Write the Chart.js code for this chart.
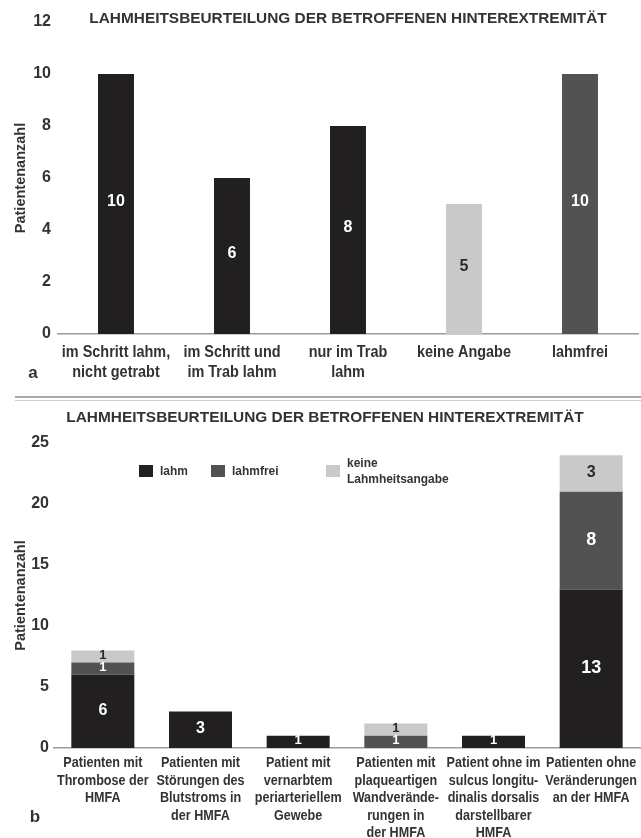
<!DOCTYPE html>
<html><head><meta charset="utf-8">
<script src="https://cdn.jsdelivr.net/npm/chart.js@4/dist/chart.umd.min.js"></script>
<style>
html,body{margin:0;padding:0;background:#fff;}
body{width:641px;height:838px;position:relative;overflow:hidden;}
#a{position:absolute;left:0;top:0;}
#b{position:absolute;left:0;top:405px;}
.sep{position:absolute;left:15px;right:0;top:396px;height:2px;background:#a9a9a9;}
.sep2{position:absolute;left:15px;right:0;top:400px;height:1px;background:#d0d0d0;}
</style></head><body>
<canvas id="a" width="641" height="395"></canvas>
<div class="sep"></div><div class="sep2"></div>
<canvas id="b" width="641" height="433"></canvas>
<script>
// ---- data ----
const chartTitle = 'LAHMHEITSBEURTEILUNG DER BETROFFENEN HINTEREXTREMITÄT';

// (a) lameness of the affected hind limb
const gaitCategories = [['im Schritt lahm,', 'nicht getrabt'], ['im Schritt und', 'im Trab lahm'], ['nur im Trab', 'lahm'], 'keine Angabe', 'lahmfrei'];
const gaitCounts = [10, 6, 8, 5, 10];
const gaitTicks = [0, 2, 4, 6, 8, 10, 12];

// (b) lameness by finding in the HMFA
const findingCategories = [
  ['Patienten mit', 'Thrombose der', 'HMFA'],
  ['Patienten mit', 'Störungen des', 'Blutstroms in', 'der HMFA'],
  ['Patient mit', 'vernarbtem', 'periarteriellem', 'Gewebe'],
  ['Patienten mit', 'plaqueartigen', 'Wandverände-', 'rungen in', 'der HMFA'],
  ['Patient ohne im', 'sulcus longitu-', 'dinalis dorsalis', 'darstellbarer', 'HMFA'],
  ['Patienten ohne', 'Veränderungen', 'an der HMFA']
];
const lahm = [6, 3, 1, 0, 1, 13];
const lahmfrei = [1, 0, 0, 1, 0, 8];
const keineAngabe = [1, 0, 0, 1, 0, 3];
const findingTicks = [0, 5, 10, 15, 20, 25];

// ---- styling ----
const BLACK = '#221f20', DARK = '#525252', LIGHT = '#c9c9c9';
const SANS = "'Liberation Sans',Arial,sans-serif";
const TEXT = '#333';

// numbers written inside the bar segments
const valueLabels = {
  id: 'valueLabels',
  afterDatasetsDraw(chart, args, opts) {
    const ctx = chart.ctx;
    chart.data.datasets.forEach((ds, i) => {
      const meta = chart.getDatasetMeta(i);
      meta.data.forEach((el, j) => {
        const v = ds.data[j];
        if (!v) return;
        const bg = Array.isArray(ds.backgroundColor) ? ds.backgroundColor[j] : ds.backgroundColor;
        ctx.save();
        ctx.font = 'bold ' + opts.size(v) + 'px ' + SANS;
        ctx.fillStyle = bg === LIGHT ? '#2a2a2a' : '#ffffff';
        ctx.textAlign = 'center';
        ctx.textBaseline = 'middle';
        ctx.fillText(String(v), el.x, (el.y + el.base) / 2 + (opts.dy || 0));
        ctx.restore();
      });
    });
  }
};

// condensed multi-line category labels under the x axis
const narrowTicks = {
  id: 'narrowTicks',
  afterDraw(chart, args, opts) {
    const sc = chart.scales.x;
    const ctx = chart.ctx;
    ctx.save();
    ctx.font = 'bold ' + opts.size + 'px ' + SANS;
    ctx.fillStyle = TEXT;
    ctx.textAlign = 'center';
    ctx.textBaseline = 'middle';
    chart.data.labels.forEach((lab, i) => {
      const x = sc.getPixelForTick(i);
      const lines = Array.isArray(lab) ? lab : [lab];
      lines.forEach((t, k) => {
        ctx.save();
        ctx.translate(x, sc.top + opts.first + k * opts.lh);
        ctx.scale(opts.sx, 1);
        ctx.fillText(t, 0, 0);
        ctx.restore();
      });
    });
    ctx.restore();
  }
};

// heading and panel letter
const panelText = {
  id: 'panelText',
  afterDraw(chart, args, opts) {
    const ctx = chart.ctx;
    ctx.save();
    ctx.fillStyle = TEXT;
    ctx.textBaseline = 'middle';
    ctx.textAlign = 'center';
    ctx.font = 'bold ' + opts.titleSize + 'px ' + SANS;
    ctx.fillText(opts.title, opts.titleX, opts.titleY);
    ctx.font = 'bold 17px ' + SANS;
    ctx.fillText(opts.letter, opts.letterX, opts.letterY);
    ctx.restore();
  }
};

// legend placed inside the plot area
const innerLegend = {
  id: 'innerLegend',
  afterDraw(chart, args, opts) {
    const ctx = chart.ctx;
    ctx.save();
    ctx.font = 'bold 13px ' + SANS;
    ctx.textBaseline = 'middle';
    ctx.textAlign = 'left';
    chart.data.datasets.forEach((ds, i) => {
      const p = opts.items[i];
      ctx.fillStyle = ds.backgroundColor;
      ctx.fillRect(p.x, p.y - 6, 14, 12);
      ctx.fillStyle = TEXT;
      const lines = Array.isArray(ds.label) ? ds.label : [ds.label];
      const lh = 16;
      lines.forEach((t, k) => {
        ctx.save();
        ctx.translate(p.x + 21, p.y + (k - (lines.length - 1) / 2) * lh);
        ctx.scale(0.92, 1);
        ctx.fillText(t, 0, 0);
        ctx.restore();
      });
    });
    ctx.restore();
  }
};

const tickFont = { family: SANS, size: 16, weight: 'bold' };
const yTitle = { display: true, text: 'Patientenanzahl', color: TEXT, font: { family: SANS, size: 14.5, weight: 'bold' }, padding: { top: 12, bottom: 0 } };

new Chart(document.getElementById('a'), {
  type: 'bar',
  data: {
    labels: gaitCategories,
    datasets: [{ data: gaitCounts, backgroundColor: [BLACK, BLACK, BLACK, LIGHT, DARK], barPercentage: 0.31, categoryPercentage: 1 }]
  },
  options: {
    responsive: false, animation: false, devicePixelRatio: 1,
    layout: { padding: { top: 22, right: 3, left: 0, bottom: 0 } },
    plugins: {
      legend: { display: false }, tooltip: { enabled: false },
      valueLabels: { size: () => 16, dy: -2 },
      narrowTicks: { size: 17, sx: 0.85, first: 18, lh: 20 },
      panelText: { title: chartTitle, titleSize: 15.4, titleX: 348, titleY: 19, letter: 'a', letterX: 33, letterY: 373 }
    },
    scales: {
      x: {
        grid: { display: false, drawTicks: false },
        border: { color: '#9c9c9c', width: 1.5 },
        ticks: { display: false },
        afterFit(s) { s.height = 61; }
      },
      y: {
        min: 0, max: 12,
        afterBuildTicks(s) { s.ticks = gaitTicks.map(v => ({ value: v })); },
        grid: { display: false, drawTicks: false },
        border: { display: false },
        ticks: { font: tickFont, color: TEXT, padding: 7 },
        title: yTitle,
        afterFit(s) { s.width = 58; }
      }
    }
  },
  plugins: [valueLabels, narrowTicks, panelText]
});

new Chart(document.getElementById('b'), {
  type: 'bar',
  data: {
    labels: findingCategories,
    datasets: [
      { label: 'lahm', data: lahm, backgroundColor: BLACK },
      { label: 'lahmfrei', data: lahmfrei, backgroundColor: DARK },
      { label: ['keine', 'Lahmheitsangabe'], data: keineAngabe, backgroundColor: LIGHT }
    ]
  },
  options: {
    responsive: false, animation: false, devicePixelRatio: 1,
    datasets: { bar: { barPercentage: 0.645, categoryPercentage: 1 } },
    layout: { padding: { top: 38, right: 1, left: 0, bottom: 0 } },
    plugins: {
      legend: { display: false }, tooltip: { enabled: false },
      valueLabels: { size: v => (v >= 8 ? 18 : v >= 3 ? 16 : 13), dy: -1 },
      narrowTicks: { size: 15, sx: 0.84, first: 15, lh: 17.5 },
      panelText: { title: chartTitle, titleSize: 15.4, titleX: 325, titleY: 13, letter: 'b', letterX: 35, letterY: 412 },
      innerLegend: { items: [{ x: 139, y: 66 }, { x: 211, y: 66 }, { x: 326, y: 66 }] }
    },
    scales: {
      x: {
        stacked: true,
        grid: { display: false, drawTicks: false },
        border: { color: '#9c9c9c', width: 1.5 },
        ticks: { display: false },
        afterFit(s) { s.height = 90; }
      },
      y: {
        stacked: true, min: 0, max: 25,
        afterBuildTicks(s) { s.ticks = findingTicks.map(v => ({ value: v })); },
        grid: { display: false, drawTicks: false },
        border: { display: false },
        ticks: { font: tickFont, color: TEXT, padding: 5 },
        title: yTitle,
        afterFit(s) { s.width = 54; }
      }
    }
  },
  plugins: [valueLabels, narrowTicks, panelText, innerLegend]
});
</script>
</body></html>
